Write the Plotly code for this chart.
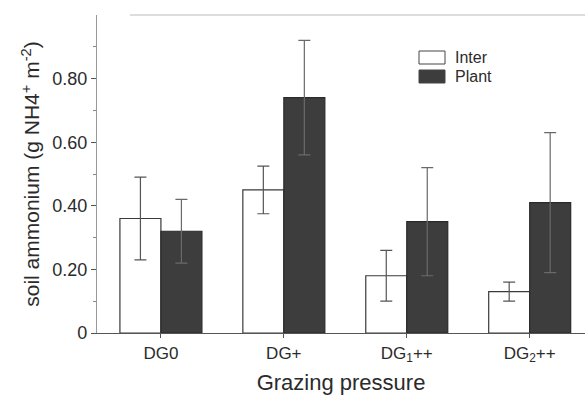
import plotly.graph_objects as go

categories = ["DG0", "DG+", "DG<sub>1</sub>++", "DG<sub>2</sub>++"]
inter_vals = [0.36, 0.45, 0.18, 0.13]
inter_err = [0.13, 0.075, 0.08, 0.03]
plant_vals = [0.32, 0.74, 0.35, 0.41]
plant_err = [0.10, 0.18, 0.17, 0.22]
y_ticks = [0, 0.2, 0.4, 0.6, 0.8]
y_ticktext = ["0", "0.20", "0.40", "0.60", "0.80"]

FONT = "Liberation Sans, Arial, Helvetica, sans-serif"
TXT = "#2b2b2b"

fig = go.Figure()
fig.add_trace(go.Bar(
    name="Inter", x=categories, y=inter_vals,
    marker=dict(color="white", line=dict(color="#3a3a3a", width=1.2)),
    error_y=dict(type="data", array=inter_err, color="#555555", thickness=1.2, width=6),
    showlegend=False,
))
fig.add_trace(go.Bar(
    name="Plant", x=categories, y=plant_vals,
    marker=dict(color="#3d3d3d", line=dict(color="#2a2a2a", width=1.2)),
    error_y=dict(type="data", array=plant_err, color="#6a6a6a", thickness=1.2, width=6),
    showlegend=False,
))

# manual legend
legend_items = [("Inter", "white"), ("Plant", "#3d3d3d")]
for i, (name, col) in enumerate(legend_items):
    y0 = 51 + i * 19
    fig.add_shape(type="rect", xref="paper", yref="paper",
                  x0=(419 - 97) / 488, x1=(445 - 97) / 488,
                  y0=(333 - (y0 + 13)) / 318, y1=(333 - y0) / 318,
                  fillcolor=col, line=dict(color="#444444", width=1))
    fig.add_annotation(xref="paper", yref="paper",
                       x=(453 - 97) / 488, y=(333 - (y0 + 6.5)) / 318,
                       text=name, showarrow=False, xanchor="left", yanchor="middle",
                       font=dict(family=FONT, size=16, color=TXT))

fig.update_layout(
    width=585, height=400,
    margin=dict(l=97, r=0, t=15, b=67),
    paper_bgcolor="white", plot_bgcolor="white",
    barmode="group", bargap=0.333, bargroupgap=0,
    font=dict(family=FONT, color=TXT),
)
fig.update_xaxes(
    range=[-0.52, 3.45],
    showline=True, linecolor="#555555", linewidth=1.2, mirror=False,
    ticks="outside", ticklen=4, tickcolor="#555555",
    tickfont=dict(family=FONT, size=17, color=TXT),
    title=dict(text="Grazing pressure", font=dict(family=FONT, size=22, color=TXT), standoff=10),
    showgrid=False, zeroline=False,
)
fig.update_yaxes(
    range=[0, 1.0],
    tickvals=y_ticks, ticktext=y_ticktext,
    showline=True, linecolor="#999999", linewidth=1.2,
    ticks="outside", ticklen=5, tickcolor="#555555",
    minor=dict(tickvals=[0.1, 0.3, 0.5, 0.7, 0.9], ticks="outside", ticklen=3, tickcolor="#888888"),
    tickfont=dict(family=FONT, size=18, color=TXT),
    title=dict(text="soil ammonium (g NH4<sup>+</sup> m<sup>-2</sup>)",
               font=dict(family=FONT, size=21, color=TXT), standoff=6),
    showgrid=False, zeroline=False,
)
# top border line
fig.add_shape(type="line", xref="paper", yref="paper", x0=(130 - 97) / 488, x1=1, y0=1, y1=1,
              line=dict(color="#bbbbbb", width=1.2))

fig.write_html("out.html")
